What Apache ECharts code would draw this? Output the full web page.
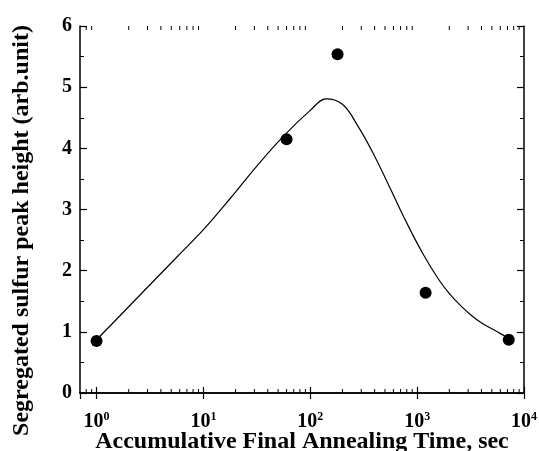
<!DOCTYPE html>
<html><head><meta charset="utf-8">
<script src="https://cdn.jsdelivr.net/npm/echarts@6/dist/echarts.min.js"></script>
<style>html,body{margin:0;padding:0;background:#fff}#c{width:539px;height:451px}</style>
</head><body><div id="c"></div>
<script>
// measured points
var pointTimes = [1, 60, 180, 1200, 7200];
var pointValues = [0.85, 4.15, 5.54, 1.64, 0.87];
// fitted curve
var curveTimes = [1, 1.78, 3.16, 5.62, 10, 17.8, 31.6, 56.2, 100, 141, 200, 282, 398, 562, 794, 1122, 1585, 1995, 2512, 3162, 3981, 5623, 6918];
var curveValues = [0.87, 1.32, 1.77, 2.22, 2.67, 3.18, 3.71, 4.20, 4.62, 4.81, 4.72, 4.35, 3.88, 3.34, 2.79, 2.29, 1.86, 1.63, 1.44, 1.28, 1.15, 1.00, 0.91];
var xDecadeLabels = ['0', '1', '2', '3', '4'];
var yTicks = [0, 1, 2, 3, 4, 5, 6];

var FONT = '"Liberation Serif", "DejaVu Serif", serif';
var minorVals = [];
for (var k = -1; k <= 3; k++) for (var m = 2; m <= 9; m++) { var v = m * Math.pow(10, k); if (v >= 0.75) minorVals.push(v); }

var chart = echarts.init(document.getElementById('c'));
function xLabel(v) {
  var e = Math.round(Math.log10(v));
  if (Math.abs(Math.log10(v) - e) > 1e-6) return '';
  return '{b|10}{s|' + xDecadeLabels[e] + '}';
}
var richX = {
  b: {fontFamily: FONT, fontWeight: 'bold', fontSize: 20, color: '#000'},
  s: {fontFamily: FONT, fontWeight: 'bold', fontSize: 12, color: '#000', verticalAlign: 'top', padding: [0, 0, 10, 0]}
};
chart.setOption({
  animation: false,
  backgroundColor: '#fff',
  grid: {left: 80, top: 26, right: 15, bottom: 58, containLabel: false, outerBoundsMode: 'none'},
  xAxis: [{
    type: 'log', logBase: 10, min: 0.7, max: 10000, position: 'bottom',
    name: 'Accumulative Final Annealing Time, sec', nameLocation: 'middle', nameGap: 37, nameMoveOverlap: false,
    nameTextStyle: {fontFamily: FONT, fontWeight: 'bold', fontSize: 24, color: '#000'},
    axisLine: {lineStyle: {color: '#000', width: 1.5}},
    axisTick: {inside: true, length: 6, lineStyle: {color: '#000', width: 1.2}},
    axisLabel: {formatter: xLabel, rich: richX, margin: 18, showMinLabel: false},
    splitLine: {show: false}
  }, {
    type: 'log', logBase: 10, min: 0.7, max: 10000, position: 'top',
    axisLine: {lineStyle: {color: '#000', width: 1.5}},
    axisTick: {inside: true, length: 6, lineStyle: {color: '#000', width: 1.2}},
    axisLabel: {show: false}, splitLine: {show: false}
  }],
  yAxis: [{
    type: 'value', min: 0, max: 6, interval: 1, position: 'left',
    name: 'Segregated sulfur peak height (arb.unit)', nameLocation: 'middle', nameGap: 46, nameMoveOverlap: false,
    nameTextStyle: {fontFamily: FONT, fontWeight: 'bold', fontSize: 24, color: '#000', padding: [0, 42, 0, 0]},
    axisLine: {show: true, lineStyle: {color: '#000', width: 1.5}},
    axisTick: {inside: true, length: 7, lineStyle: {color: '#000', width: 1.2}},
    minorTick: {show: true, splitNumber: 2, length: 4, lineStyle: {color: '#000', width: 1}},
    axisLabel: {fontFamily: FONT, fontWeight: 'bold', fontSize: 20, color: '#000', margin: 8},
    splitLine: {show: false}, minorSplitLine: {show: false}
  }, {
    type: 'value', min: 0, max: 6, interval: 1, position: 'right',
    axisLine: {show: true, lineStyle: {color: '#000', width: 1.5}},
    axisTick: {inside: true, length: 7, lineStyle: {color: '#000', width: 1.2}},
    minorTick: {show: true, splitNumber: 2, length: 4, lineStyle: {color: '#000', width: 1}},
    axisLabel: {show: false}, splitLine: {show: false}, minorSplitLine: {show: false}
  }],
  series: [{
    type: 'line', xAxisIndex: 0, yAxisIndex: 0, smooth: 0.4, symbol: 'none',
    lineStyle: {color: '#000', width: 1.2},
    data: curveTimes.map(function (t, i) { return [t, curveValues[i]]; }), z: 2
  }, {
    type: 'scatter', xAxisIndex: 0, yAxisIndex: 0, symbol: 'circle', symbolSize: 12,
    itemStyle: {color: '#000', opacity: 1},
    data: pointTimes.map(function (t, i) { return [t, pointValues[i]]; }), z: 3
  }, {
    type: 'custom', xAxisIndex: 0, yAxisIndex: 0, silent: true,
    data: minorVals.map(function (v) { return [v, 0]; }),
    renderItem: function (params, api) {
      var x = api.coord([api.value(0), 0])[0];
      var yb = api.coord([api.value(0), 0])[1];
      var yt = api.coord([api.value(0), 6])[1];
      return {type: 'group', children: [
        {type: 'line', shape: {x1: x, y1: yb, x2: x, y2: yb - 4}, style: {stroke: '#000', lineWidth: 1}},
        {type: 'line', shape: {x1: x, y1: yt, x2: x, y2: yt + 4}, style: {stroke: '#000', lineWidth: 1}}
      ]};
    }
  }]
});
</script></body></html>
